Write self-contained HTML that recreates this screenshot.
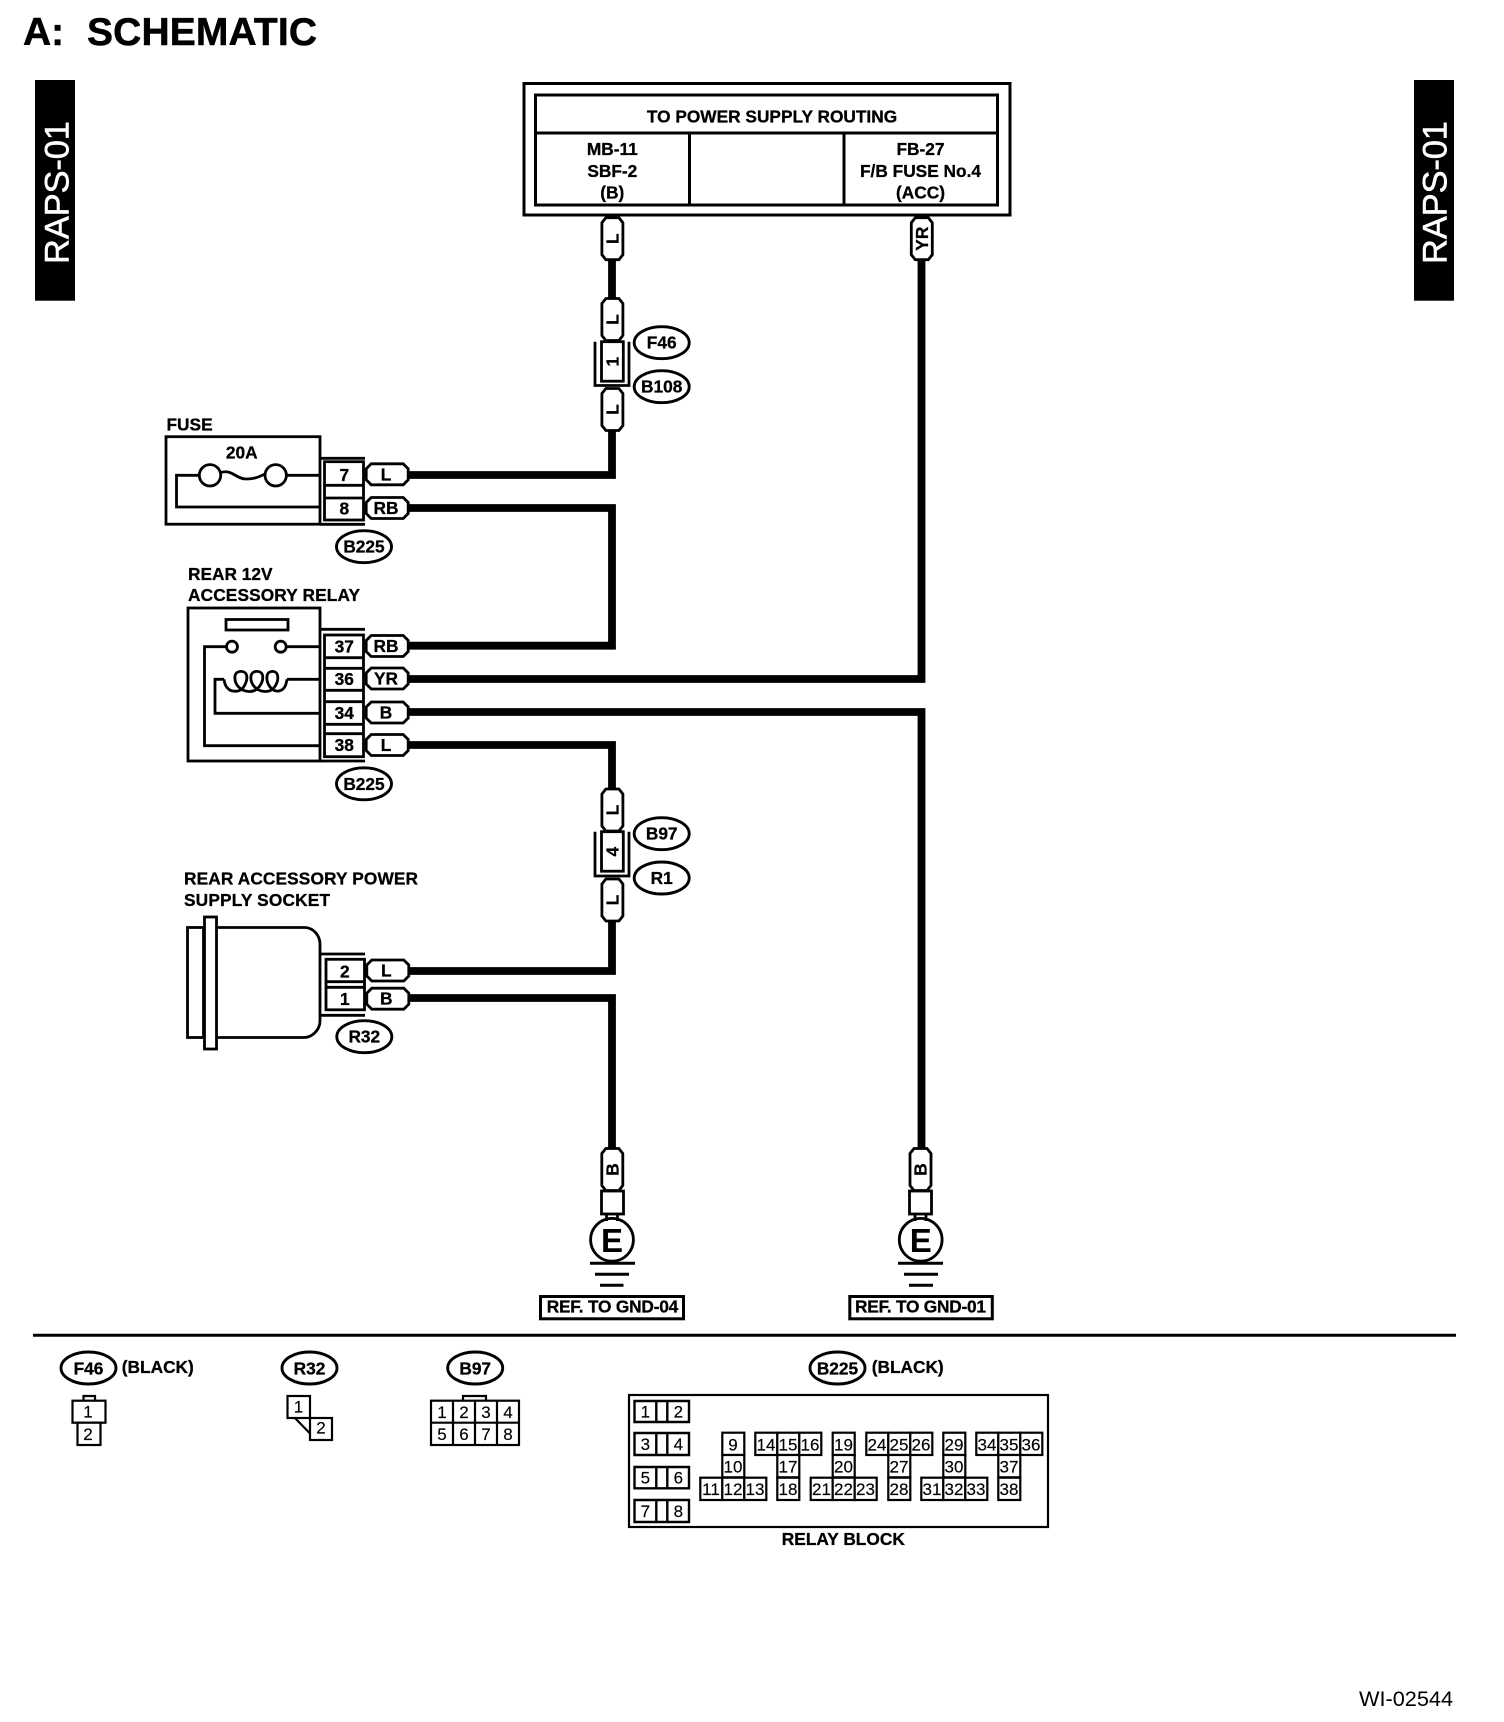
<!DOCTYPE html>
<html><head><meta charset="utf-8"><title>Schematic</title>
<style>
html,body{margin:0;padding:0;background:#fff;width:1504px;height:1722px;overflow:hidden}
svg{position:absolute;left:0;top:0;display:block}
text{font-family:"Liberation Sans",sans-serif;fill:#000}
.b{font-weight:bold;font-size:17.3px;stroke:#000;stroke-width:.3}
.m{text-anchor:middle}
.r{font-size:17px;text-anchor:middle;stroke:#000;stroke-width:.15}
.s{fill:none;stroke:#000;stroke-width:2.8}
.t{fill:#fff;stroke:#000;stroke-width:2.8}
.o{fill:#fff;stroke:#000;stroke-width:2.9}
.w{fill:none;stroke:#000;stroke-width:7.8;stroke-linejoin:miter}
.c{fill:#fff;stroke:#000;stroke-width:2.2}
</style></head><body>
<svg width="1504" height="1722" viewBox="0 0 1504 1722" xmlns="http://www.w3.org/2000/svg">
<defs>
<polygon id="v" points="-6.5,-21 6.5,-21 10.5,-16 10.5,16 6.5,21 -6.5,21 -10.5,16 -10.5,-16" class="t"/>
<polygon id="h" points="-16,-10.5 16,-10.5 21,-5.5 21,5.5 16,10.5 -16,10.5 -21,5.5 -21,-5.5" class="t"/>
<ellipse id="e" rx="27.5" ry="16" class="o"/>
<rect id="g" width="22" height="22.3" class="c"/>
</defs>

<!-- Title and side bars -->
<text x="23" y="45" font-weight="bold" font-size="39" stroke="#000" stroke-width=".5">A:</text>
<text x="87" y="45" font-weight="bold" font-size="39" stroke="#000" stroke-width=".5" textLength="230">SCHEMATIC</text>
<rect x="35" y="80" width="40" height="220.7" fill="#000"/>
<text transform="translate(68.3,264) rotate(-90)" font-size="34.6" textLength="143" style="fill:#fff;stroke:#fff;stroke-width:.5">RAPS-01</text>
<rect x="1414" y="80" width="40" height="220.7" fill="#000"/>
<text transform="translate(1446.7,264) rotate(-90)" font-size="34.6" textLength="143" style="fill:#fff;stroke:#fff;stroke-width:.5">RAPS-01</text>
<text x="1359" y="1706" font-size="21.7">WI-02544</text>

<!-- Wires -->
<path class="w" d="M612 255V300"/>
<path class="w" d="M612 428V475H405"/>
<path class="w" d="M405 508H612V645.7H405"/>
<path class="w" d="M921.5 255V679H405"/>
<path class="w" d="M405 712H921.5V1152"/>
<path class="w" d="M405 745H612V792"/>
<path class="w" d="M612 918V971H405"/>
<path class="w" d="M405 998H612V1152"/>

<!-- Power supply box -->
<rect x="524" y="83.5" width="486" height="131.5" class="s" style="stroke-width:3"/>
<rect x="535.5" y="95" width="462" height="110" class="s" style="stroke-width:3"/>
<path class="s" style="stroke-width:3" d="M535.5 133H997.5M689.5 133V205M844 133V205"/>
<text x="772" y="122.7" class="b m">TO POWER SUPPLY ROUTING</text>
<text x="612.3" y="155" class="b m">MB-11</text>
<text x="612.3" y="177" class="b m">SBF-2</text>
<text x="612.3" y="198.5" class="b m">(B)</text>
<text x="920.5" y="155" class="b m">FB-27</text>
<text x="920.5" y="177" class="b m">F/B FUSE No.4</text>
<text x="920.5" y="198.5" class="b m">(ACC)</text>

<!-- Vertical tags top -->
<use href="#v" x="612.4" y="238.7"/>
<text transform="translate(618.5,238.7) rotate(-90)" class="b m">L</text>
<use href="#v" x="921.8" y="238.7"/>
<text transform="translate(928,238.7) rotate(-90)" class="b m">YR</text>
<use href="#v" x="612.4" y="319.5"/>
<text transform="translate(618.5,319.5) rotate(-90)" class="b m">L</text>
<path class="s" d="M595 341.7V385.5H629V341.7"/>
<rect x="601.5" y="341.7" width="21.8" height="39.5" class="t"/>
<text transform="translate(618.5,361.7) rotate(-90)" class="b m">1</text>
<use href="#v" x="612.4" y="409.5"/>
<text transform="translate(618.5,409.5) rotate(-90)" class="b m">L</text>
<use href="#e" x="661.7" y="342.7"/>
<text x="661.7" y="348.7" class="b m">F46</text>
<use href="#e" x="661.7" y="386.7"/>
<text x="661.7" y="392.7" class="b m">B108</text>

<!-- Fuse -->
<text x="166.5" y="430.7" class="b">FUSE</text>
<rect x="166" y="436.7" width="154" height="87.5" class="s"/>
<path class="s" d="M320 458.3H365M320 524.3H365"/>
<rect x="324.5" y="461.7" width="39" height="58.3" class="t"/>
<path class="s" d="M324.5 485.3H363.5M324.5 498H363.5"/>
<text x="344.3" y="481" class="b m">7</text>
<text x="344.3" y="514.3" class="b m">8</text>
<text x="241.7" y="458.3" class="b m">20A</text>
<circle cx="210" cy="475.3" r="10.7" class="s"/>
<circle cx="275.7" cy="475.3" r="10.7" class="s"/>
<path class="s" d="M199.3 475.3H176.5V507H320M286.4 475.3H320"/>
<path class="s" d="M221 472.5C232 469 236 479 246 479C255 479 258 477 265 474"/>
<use href="#h" x="387.2" y="474.3"/>
<text x="386" y="480.3" class="b m">L</text>
<use href="#h" x="387.2" y="508"/>
<text x="386" y="514" class="b m">RB</text>
<use href="#e" x="364" y="546.7"/>
<text x="364" y="552.7" class="b m">B225</text>

<!-- Relay -->
<text x="188" y="580" class="b">REAR 12V</text>
<text x="188" y="601" class="b" textLength="172">ACCESSORY RELAY</text>
<rect x="188" y="608" width="132" height="153" class="s"/>
<path class="s" d="M320 629.3H365M320 761H365"/>
<rect x="324.5" y="635" width="39" height="121.7" class="t"/>
<path class="s" d="M324.5 657.7H363.5M324.5 668.3H363.5M324.5 690.3H363.5M324.5 701.7H363.5M324.5 724.3H363.5M324.5 733.7H363.5"/>
<text x="344.3" y="652.3" class="b m">37</text>
<text x="344.3" y="685" class="b m">36</text>
<text x="344.3" y="719" class="b m">34</text>
<text x="344.3" y="751" class="b m">38</text>
<rect x="226" y="619.5" width="62" height="10.5" class="s"/>
<circle cx="232" cy="646.7" r="5.5" class="s"/>
<circle cx="280.7" cy="646.7" r="5.5" class="s"/>
<path class="s" d="M226.5 646.7H204.5V745.7H320M286.2 646.7H320"/>
<path class="s" d="M320 713.3H215V679.3H224M320 679.3H287"/>
<path class="s" d="M224 679.3C225 690 232 692 238 691C244 690 248 680 246.5 675C245 670 236 670 235 676C234 684 240 691 249 691.5C258 692 264 682 262.5 675C261 670 252 670 251 676C250 684 256 691 265 691.5C274 692 279 682 277.5 675C276 670 268 670 267 676C266 684 272 692 279 691C284 690 286 686 287 679.3"/>
<use href="#h" x="387.2" y="646"/>
<text x="386" y="652" class="b m">RB</text>
<use href="#h" x="387.2" y="678.5"/>
<text x="386" y="684.5" class="b m">YR</text>
<use href="#h" x="387.2" y="712.5"/>
<text x="386" y="718.5" class="b m">B</text>
<use href="#h" x="387.2" y="745"/>
<text x="386" y="751" class="b m">L</text>
<use href="#e" x="364" y="783.8"/>
<text x="364" y="789.8" class="b m">B225</text>

<!-- Middle vertical tags -->
<use href="#v" x="612.4" y="810"/>
<text transform="translate(618.5,810) rotate(-90)" class="b m">L</text>
<path class="s" d="M595 831.7V876H629V831.7"/>
<rect x="601.5" y="831.7" width="21.8" height="39.5" class="t"/>
<text transform="translate(618.5,851.7) rotate(-90)" class="b m">4</text>
<use href="#v" x="612.4" y="900"/>
<text transform="translate(618.5,900) rotate(-90)" class="b m">L</text>
<use href="#e" x="661.7" y="833.7"/>
<text x="661.7" y="839.7" class="b m">B97</text>
<use href="#e" x="661.7" y="878"/>
<text x="661.7" y="884" class="b m">R1</text>

<!-- Socket -->
<text x="184" y="884.3" class="b" textLength="234">REAR ACCESSORY POWER</text>
<text x="184" y="906" class="b" textLength="146">SUPPLY SOCKET</text>
<rect x="187.5" y="927.5" width="16" height="110" class="s"/>
<rect x="204.5" y="917" width="12" height="132" class="s"/>
<path class="s" d="M217 927.5H305C314 928 320 936 320 944V1021C320 1030 312 1037.5 304 1037.5H217"/>
<path class="s" d="M320 954H365M320 1015.3H365"/>
<rect x="326" y="959.3" width="38.5" height="50.5" class="t"/>
<path class="s" d="M326 981.7H364.5M326 987.3H364.5"/>
<text x="344.8" y="977.7" class="b m">2</text>
<text x="344.8" y="1005" class="b m">1</text>
<use href="#h" x="387.8" y="970.5"/>
<text x="386.3" y="976.5" class="b m">L</text>
<use href="#h" x="387.8" y="998.7"/>
<text x="386.3" y="1004.7" class="b m">B</text>
<use href="#e" x="364.3" y="1036.7"/>
<text x="364.3" y="1042.7" class="b m">R32</text>

<!-- Grounds -->
<use href="#v" x="612.3" y="1169.5"/>
<text transform="translate(618.5,1169.5) rotate(-90)" class="b m">B</text>
<rect x="601.5" y="1191" width="22" height="23" class="t"/>
<path class="s" d="M606.5 1214V1221M617.5 1214V1221"/>
<circle cx="612" cy="1239.8" r="21.4" class="s"/>
<text x="612" y="1252.2" font-weight="bold" font-size="33" class="m">E</text>
<path class="s" style="stroke-width:3" d="M590 1263.3H635M595 1274.3H629M600 1285.3H623.5"/>
<rect x="540.5" y="1296.5" width="143" height="22.3" class="s" style="stroke-width:3"/>
<text x="612.5" y="1312.3" class="b m" textLength="131.6">REF. TO GND-04</text>

<use href="#v" x="920.5" y="1169.5"/>
<text transform="translate(926.5,1169.5) rotate(-90)" class="b m">B</text>
<rect x="909.5" y="1191" width="22" height="23" class="t"/>
<path class="s" d="M915 1214V1221M926 1214V1221"/>
<circle cx="920.7" cy="1239.8" r="21.4" class="s"/>
<text x="920.7" y="1252.2" font-weight="bold" font-size="33" class="m">E</text>
<path class="s" style="stroke-width:3" d="M898 1263.3H943M904 1274.3H938M909 1285.3H933"/>
<rect x="849.8" y="1296.5" width="142.5" height="22.3" class="s" style="stroke-width:3"/>
<text x="920.5" y="1312.3" class="b m" textLength="131">REF. TO GND-01</text>

<path class="s" style="stroke-width:3" d="M33 1335.3H1456"/>

<!-- Connector legend -->
<use href="#e" x="88.5" y="1368"/>
<text x="88.5" y="1374.5" class="b m">F46</text>
<text x="121.8" y="1373" class="b" textLength="72">(BLACK)</text>
<path class="c" d="M83.5 1400.7V1396H95V1400.7"/>
<rect x="72.5" y="1400.7" width="33" height="22" class="c"/>
<rect x="77.5" y="1422.7" width="23" height="22.3" class="c"/>
<text x="88" y="1417.3" class="r">1</text>
<text x="88" y="1440" class="r">2</text>

<use href="#e" x="309.5" y="1368"/>
<text x="309.5" y="1374.5" class="b m">R32</text>
<rect x="287.5" y="1396" width="22.5" height="22" class="c"/>
<rect x="310" y="1418" width="22" height="22" class="c"/>
<path class="c" d="M295 1418L310 1433.5"/>
<text x="298.5" y="1412.7" class="r">1</text>
<text x="321" y="1433.3" class="r">2</text>

<use href="#e" x="475.2" y="1368"/>
<text x="475.2" y="1374.5" class="b m">B97</text>
<path class="c" d="M463 1400.7V1396H486V1400.7"/>
<rect x="431" y="1400.7" width="88" height="44.3" class="c"/>
<path class="c" d="M431 1422.7H519M453 1400.7V1445M475 1400.7V1445M497 1400.7V1445"/>
<text x="442" y="1418" class="r">1</text><text x="464" y="1418" class="r">2</text><text x="486" y="1418" class="r">3</text><text x="508" y="1418" class="r">4</text>
<text x="442" y="1440" class="r">5</text><text x="464" y="1440" class="r">6</text><text x="486" y="1440" class="r">7</text><text x="508" y="1440" class="r">8</text>

<use href="#e" x="837.5" y="1368"/>
<text x="837.5" y="1374.5" class="b m">B225</text>
<text x="871.7" y="1373" class="b" textLength="72">(BLACK)</text>
<rect x="629" y="1395" width="419" height="132" class="c"/>
<path class="c" style="stroke-width:2.4" d="M634.5 1401H689V1422H634.5ZM656.3 1401V1422M667.3 1401V1422"/>
<path class="c" style="stroke-width:2.4" d="M634.5 1433H689V1455H634.5ZM656.3 1433V1455M667.3 1433V1455"/>
<path class="c" style="stroke-width:2.4" d="M634.5 1467H689V1488.3H634.5ZM656.3 1467V1488.3M667.3 1467V1488.3"/>
<path class="c" style="stroke-width:2.4" d="M634.5 1500H689V1522H634.5ZM656.3 1500V1522M667.3 1500V1522"/>
<text x="645.3" y="1417.5" class="r">1</text><text x="678.3" y="1417.5" class="r">2</text>
<text x="645.3" y="1450" class="r">3</text><text x="678.3" y="1450" class="r">4</text>
<text x="645.3" y="1483.5" class="r">5</text><text x="678.3" y="1483.5" class="r">6</text>
<text x="645.3" y="1517" class="r">7</text><text x="678.3" y="1517" class="r">8</text>

<!-- group 1 -->
<use href="#g" x="722.3" y="1432.7"/><use href="#g" x="722.3" y="1455"/><use href="#g" x="700.3" y="1477.7"/><use href="#g" x="722.3" y="1477.7"/><use href="#g" x="744.3" y="1477.7"/>
<text x="733" y="1450.7" class="r">9</text><text x="733" y="1472.7" class="r">10</text><text x="711" y="1495" class="r">11</text><text x="733" y="1495" class="r">12</text><text x="755" y="1495" class="r">13</text>
<!-- group 2 -->
<use href="#g" x="755.3" y="1432.7"/><use href="#g" x="777.3" y="1432.7"/><use href="#g" x="799.3" y="1432.7"/><use href="#g" x="777.3" y="1455"/><use href="#g" x="777.3" y="1477.7"/>
<text x="766" y="1450.7" class="r">14</text><text x="788" y="1450.7" class="r">15</text><text x="810" y="1450.7" class="r">16</text><text x="788" y="1472.7" class="r">17</text><text x="788" y="1495" class="r">18</text>
<!-- group 3 -->
<use href="#g" x="832.7" y="1432.7"/><use href="#g" x="832.7" y="1455"/><use href="#g" x="810.7" y="1477.7"/><use href="#g" x="832.7" y="1477.7"/><use href="#g" x="854.7" y="1477.7"/>
<text x="843.5" y="1450.7" class="r">19</text><text x="843.5" y="1472.7" class="r">20</text><text x="821.5" y="1495" class="r">21</text><text x="843.5" y="1495" class="r">22</text><text x="865.5" y="1495" class="r">23</text>
<!-- group 4 -->
<use href="#g" x="866.3" y="1432.7"/><use href="#g" x="888.3" y="1432.7"/><use href="#g" x="910.3" y="1432.7"/><use href="#g" x="888.3" y="1455"/><use href="#g" x="888.3" y="1477.7"/>
<text x="877" y="1450.7" class="r">24</text><text x="899" y="1450.7" class="r">25</text><text x="921" y="1450.7" class="r">26</text><text x="899" y="1472.7" class="r">27</text><text x="899" y="1495" class="r">28</text>
<!-- group 5 -->
<use href="#g" x="943.3" y="1432.7"/><use href="#g" x="943.3" y="1455"/><use href="#g" x="921.3" y="1477.7"/><use href="#g" x="943.3" y="1477.7"/><use href="#g" x="965.3" y="1477.7"/>
<text x="954" y="1450.7" class="r">29</text><text x="954" y="1472.7" class="r">30</text><text x="932" y="1495" class="r">31</text><text x="954" y="1495" class="r">32</text><text x="976" y="1495" class="r">33</text>
<!-- group 6 -->
<use href="#g" x="976.3" y="1432.7"/><use href="#g" x="998.3" y="1432.7"/><use href="#g" x="1020.3" y="1432.7"/><use href="#g" x="998.3" y="1455"/><use href="#g" x="998.3" y="1477.7"/>
<text x="987" y="1450.7" class="r">34</text><text x="1009" y="1450.7" class="r">35</text><text x="1031" y="1450.7" class="r">36</text><text x="1009" y="1472.7" class="r">37</text><text x="1009" y="1495" class="r">38</text>

<text x="843.3" y="1545" class="b m" textLength="123">RELAY BLOCK</text>
</svg>
</body></html>
